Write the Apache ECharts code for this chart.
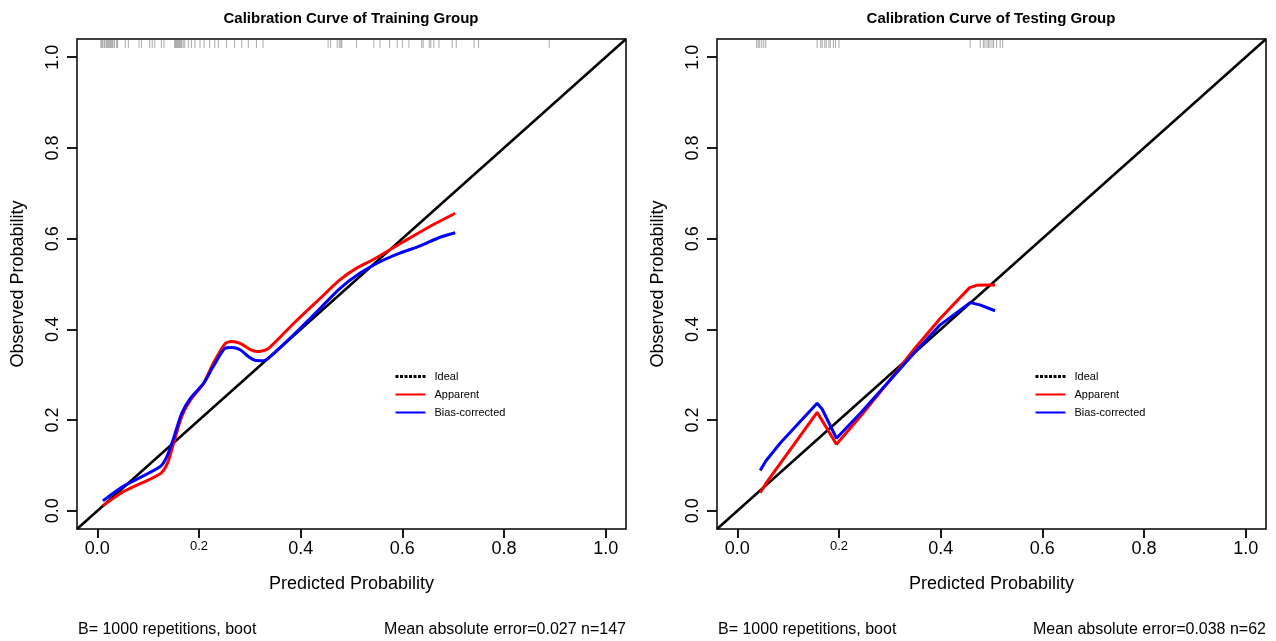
<!DOCTYPE html>
<html><head><meta charset="utf-8">
<script src="https://cdn.jsdelivr.net/npm/echarts@6/dist/echarts.min.js"></script>
<style>html,body{margin:0;padding:0;background:#fff}#c{width:1276px;height:641px}</style>
</head><body><div id="c"></div>
<script>
// ---------- data ----------
const tickValues = [0, 0.2, 0.4, 0.6, 0.8, 1.0];
const idealLine = [[-0.04, -0.04], [1.04, 1.04]];

const trainApparent = [[0.011,0.011],[0.051,0.042],[0.124,0.082],[0.138,0.105],[0.150,0.149],[0.166,0.208],[0.183,0.244],[0.209,0.281],[0.228,0.325],[0.251,0.368],[0.264,0.373],[0.281,0.369],[0.300,0.356],[0.314,0.351],[0.323,0.352],[0.337,0.358],[0.386,0.413],[0.438,0.468],[0.477,0.509],[0.510,0.535],[0.543,0.554],[0.569,0.571],[0.602,0.593],[0.648,0.623],[0.704,0.656]];
const trainBias = [[0.011,0.022],[0.051,0.054],[0.124,0.098],[0.137,0.120],[0.150,0.160],[0.166,0.215],[0.183,0.248],[0.209,0.281],[0.228,0.318],[0.251,0.358],[0.264,0.360],[0.281,0.355],[0.297,0.340],[0.310,0.332],[0.327,0.331],[0.340,0.340],[0.386,0.388],[0.438,0.446],[0.477,0.490],[0.517,0.524],[0.556,0.549],[0.595,0.568],[0.635,0.584],[0.674,0.603],[0.704,0.613]];

const testApparent = [[0.045,0.040],[0.059,0.065],[0.157,0.217],[0.195,0.147],[0.242,0.208],[0.295,0.281],[0.347,0.355],[0.399,0.424],[0.457,0.492],[0.471,0.497],[0.491,0.498],[0.507,0.498]];
const testBias = [[0.045,0.089],[0.056,0.110],[0.085,0.150],[0.157,0.237],[0.167,0.224],[0.195,0.160],[0.242,0.215],[0.295,0.281],[0.347,0.347],[0.399,0.410],[0.458,0.459],[0.477,0.454],[0.507,0.441]];

const trainRug = [0.007,0.009,0.011,0.014,0.017,0.019,0.021,0.023,0.025,0.027,0.029,0.031,0.034,0.038,0.040,
  0.055,0.061,0.082,0.087,0.103,0.108,0.113,0.126,0.131,
  0.152,0.154,0.156,0.158,0.160,0.162,0.164,0.166,0.169,0.172,
  0.179,0.185,0.192,0.202,0.210,0.221,0.231,0.238,0.254,0.270,0.284,0.297,0.313,0.326,
  0.454,0.459,0.472,0.476,0.479,0.481,0.510,0.544,0.556,0.575,0.590,0.600,0.613,0.638,0.641,0.653,0.656,0.662,0.672,0.698,0.706,0.741,0.750,0.889];
const testRug = [0.038,0.041,0.044,0.048,0.052,0.056,
  0.157,0.164,0.167,0.172,0.175,0.180,0.183,0.189,0.193,0.200,
  0.458,0.478,0.484,0.487,0.491,0.494,0.497,0.501,0.504,0.510,0.517,0.522];

const titles = ['Calibration Curve of Training Group', 'Calibration Curve of Testing Group'];
const footLeft = ['B= 1000 repetitions, boot', 'B= 1000 repetitions, boot'];
const footRight = ['Mean absolute error=0.027 n=147', 'Mean absolute error=0.038 n=62'];

// ---------- layout ----------
const FONT = 'Liberation Sans, Arial, Helvetica, sans-serif';
const grids = [
  {left: 77, top: 39, width: 549, height: 490},
  {left: 717, top: 39, width: 549, height: 490}
];
const RUG_Y = 1.029;

function xAxis(gi) {
  return {
    type: 'value', gridIndex: gi, min: -0.04, max: 1.04,
    axisLine: {show: false, onZero: false}, splitLine: {show: false},
    axisTick: {show: true, inside: false, customValues: tickValues, length: 9, lineStyle: {color: '#000', width: 1.8}},
    axisLabel: {customValues: tickValues, margin: 11, fontSize: 18, color: '#000', fontFamily: FONT,
      formatter: v => (Math.abs(v - 0.2) < 1e-9 ? '{s|0.2}' : v.toFixed(1)),
      rich: {s: {fontSize: 13, color: '#000', fontFamily: FONT}}},
    name: 'Predicted Probability', nameLocation: 'middle', nameGap: 46,
    nameTextStyle: {fontSize: 18, color: '#000', fontFamily: FONT}
  };
}
function yAxis(gi) {
  return {
    type: 'value', gridIndex: gi, min: -0.04, max: 1.04,
    axisLine: {show: false, onZero: false}, splitLine: {show: false},
    axisTick: {show: true, inside: false, customValues: tickValues, length: 10, lineStyle: {color: '#000', width: 1.8}},
    axisLabel: {customValues: tickValues, margin: 15, rotate: 90, fontSize: 18, color: '#000', fontFamily: FONT,
      formatter: v => v.toFixed(1)},
    name: 'Observed Probability', nameLocation: 'middle', nameGap: 50, nameRotate: 90,
    nameTextStyle: {fontSize: 18, color: '#000', fontFamily: FONT}
  };
}
function seriesFor(gi, app, bias, rug, smooth) {
  return [
    {name: 'Ideal', type: 'line', xAxisIndex: gi, yAxisIndex: gi, data: idealLine, symbol: 'none',
      lineStyle: {color: '#000', width: 2.5}, itemStyle: {color: '#000'}, z: 2},
    {name: 'Apparent', type: 'line', xAxisIndex: gi, yAxisIndex: gi, data: app, symbol: 'none', smooth: smooth,
      lineStyle: {color: '#ff0000', width: 3}, itemStyle: {color: '#ff0000'}, z: 3},
    {name: 'Bias-corrected', type: 'line', xAxisIndex: gi, yAxisIndex: gi, data: bias, symbol: 'none', smooth: smooth,
      lineStyle: {color: '#0000ff', width: 3}, itemStyle: {color: '#0000ff'}, z: 4},
    {name: 'rug', type: 'scatter', xAxisIndex: gi, yAxisIndex: gi, data: rug.map(v => [v, RUG_Y]),
      symbol: 'rect', symbolSize: [1, 8], itemStyle: {color: 'rgba(0,0,0,0.42)'}, silent: true, z: 1}
  ];
}
const hiddenSym = {opacity: 0, color: 'transparent', borderWidth: 0};
function legendFor(left) {
  return {
    orient: 'vertical', left: left, top: 366, itemWidth: 30, itemHeight: 12, itemGap: 7,
    selectedMode: false,
    itemStyle: hiddenSym,
    textStyle: {fontSize: 11, color: '#000', fontFamily: FONT, padding: [0, 0, 0, 4]},
    data: [
      {name: 'Ideal', itemStyle: hiddenSym, lineStyle: {type: [3, 1.5], width: 3, color: '#000'}},
      {name: 'Apparent', itemStyle: hiddenSym, lineStyle: {width: 2, color: '#ff0000'}},
      {name: 'Bias-corrected', itemStyle: hiddenSym, lineStyle: {width: 2, color: '#0000ff'}}
    ]
  };
}
function txt(x, y, text, align, font) {
  return {type: 'text', x: x, y: y, silent: true,
    style: {text: text, fill: '#000', font: font, textAlign: align, textVerticalAlign: 'middle'}};
}

const chart = echarts.init(document.getElementById('c'), null, {renderer: 'canvas'});
chart.setOption({
  animation: false,
  backgroundColor: '#fff',
  grid: grids.map(g => Object.assign({show: true, borderColor: '#000', borderWidth: 1.5, backgroundColor: 'transparent'}, g)),
  xAxis: [xAxis(0), xAxis(1)],
  yAxis: [yAxis(0), yAxis(1)],
  legend: [legendFor(389), legendFor(1029)],
  series: [].concat(
    seriesFor(0, trainApparent, trainBias, trainRug, 0.25),
    seriesFor(1, testApparent, testBias, testRug, false)
  ),
  graphic: [
    txt(351, 19, titles[0], 'center', 'bold 15px ' + FONT),
    txt(991, 19, titles[1], 'center', 'bold 15px ' + FONT),
    txt(78, 630, footLeft[0], 'left', '16px ' + FONT),
    txt(626, 630, footRight[0], 'right', '16px ' + FONT),
    txt(718, 630, footLeft[1], 'left', '16px ' + FONT),
    txt(1266, 630, footRight[1], 'right', '16px ' + FONT)
  ]
});
</script></body></html>
